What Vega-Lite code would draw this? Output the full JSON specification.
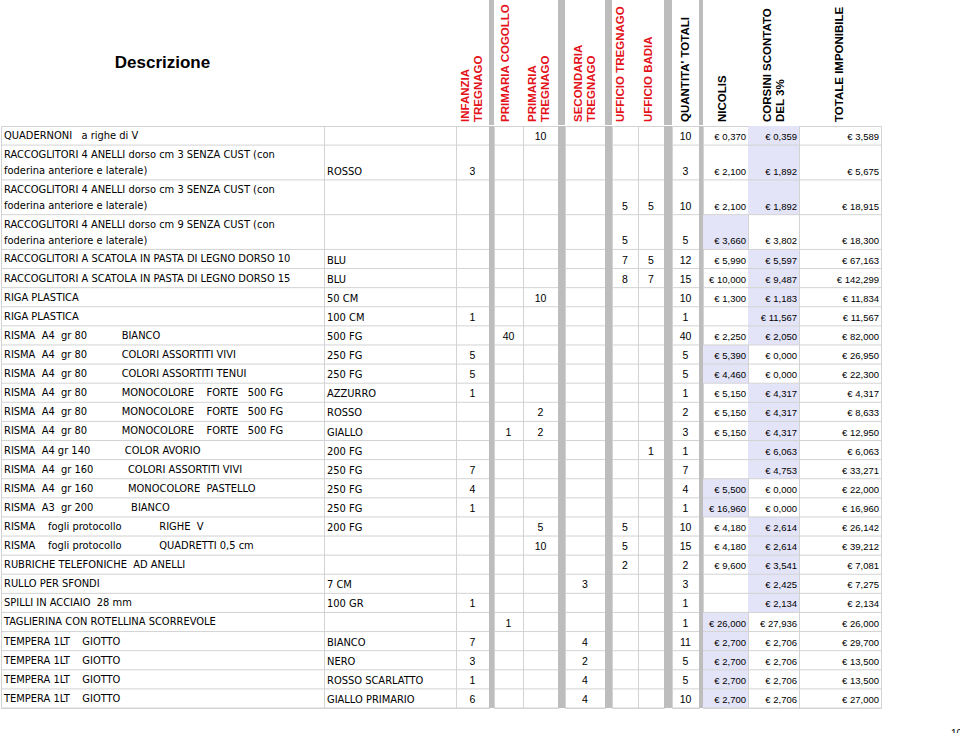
{
  "$schema": "https://vega.github.io/schema/vega-lite/v6.json",
  "padding": 0,
  "background": "white",
  "spacing": 0,
  "config": {
    "view": {"stroke": "#d3d3d3", "strokeWidth": 1},
    "concat": {"spacing": 0},
    "locale": {"number": {"decimal": ",", "thousands": ".", "grouping": [3], "currency": ["€ ", ""]}},
    "text": {"font": "Liberation Sans", "fontSize": 10.5, "color": "#000000"}
  },
  "datasets": {
    "righe": [
      {"descr": "QUADERNONI\u00a0\u00a0\u00a0a righe di V", "pt": 10, "q": 10, "nic": 0.37, "cor": 0.359, "tot": 3.589, "best": "CORSINI"},
      {"descr": ["RACCOGLITORI 4 ANELLI dorso cm 3 SENZA CUST (con", "foderina anteriore e laterale)"], "var": "ROSSO", "inf": 3, "q": 3, "nic": 2.1, "cor": 1.892, "tot": 5.675, "best": "CORSINI"},
      {"descr": ["RACCOGLITORI 4 ANELLI dorso cm 3 SENZA CUST (con", "foderina anteriore e laterale)"], "ut": 5, "ub": 5, "q": 10, "nic": 2.1, "cor": 1.892, "tot": 18.915, "best": "CORSINI"},
      {"descr": ["RACCOGLITORI 4 ANELLI dorso cm 9 SENZA CUST (con", "foderina anteriore e laterale)"], "ut": 5, "q": 5, "nic": 3.66, "cor": 3.802, "tot": 18.3, "best": "NICOLIS"},
      {"descr": "RACCOGLITORI A SCATOLA IN PASTA DI LEGNO DORSO 10", "var": "BLU", "ut": 7, "ub": 5, "q": 12, "nic": 5.99, "cor": 5.597, "tot": 67.163, "best": "CORSINI"},
      {"descr": "RACCOGLITORI A SCATOLA IN PASTA DI LEGNO DORSO 15", "var": "BLU", "ut": 8, "ub": 7, "q": 15, "nic": 10, "cor": 9.487, "tot": 142.299, "best": "CORSINI"},
      {"descr": "RIGA PLASTICA", "var": "50 CM", "pt": 10, "q": 10, "nic": 1.3, "cor": 1.183, "tot": 11.834, "best": "CORSINI"},
      {"descr": "RIGA PLASTICA", "var": "100 CM", "inf": 1, "q": 1, "cor": 11.567, "tot": 11.567, "best": "CORSINI"},
      {"descr": "RISMA\u00a0\u00a0A4\u00a0\u00a0gr 80\u00a0\u00a0\u00a0\u00a0\u00a0\u00a0\u00a0\u00a0\u00a0\u00a0\u00a0BIANCO", "var": "500 FG", "cog": 40, "q": 40, "nic": 2.25, "cor": 2.05, "tot": 82, "best": "CORSINI"},
      {"descr": "RISMA\u00a0\u00a0A4\u00a0\u00a0gr 80\u00a0\u00a0\u00a0\u00a0\u00a0\u00a0\u00a0\u00a0\u00a0\u00a0\u00a0COLORI ASSORTITI VIVI", "var": "250 FG", "inf": 5, "q": 5, "nic": 5.39, "cor": 0, "tot": 26.95, "best": "NICOLIS"},
      {"descr": "RISMA\u00a0\u00a0A4\u00a0\u00a0gr 80\u00a0\u00a0\u00a0\u00a0\u00a0\u00a0\u00a0\u00a0\u00a0\u00a0\u00a0COLORI ASSORTITI TENUI", "var": "250 FG", "inf": 5, "q": 5, "nic": 4.46, "cor": 0, "tot": 22.3, "best": "NICOLIS"},
      {"descr": "RISMA\u00a0\u00a0A4\u00a0\u00a0gr 80\u00a0\u00a0\u00a0\u00a0\u00a0\u00a0\u00a0\u00a0\u00a0\u00a0\u00a0MONOCOLORE\u00a0\u00a0\u00a0\u00a0FORTE\u00a0\u00a0\u00a0500 FG", "var": "AZZURRO", "inf": 1, "q": 1, "nic": 5.15, "cor": 4.317, "tot": 4.317, "best": "CORSINI"},
      {"descr": "RISMA\u00a0\u00a0A4\u00a0\u00a0gr 80\u00a0\u00a0\u00a0\u00a0\u00a0\u00a0\u00a0\u00a0\u00a0\u00a0\u00a0MONOCOLORE\u00a0\u00a0\u00a0\u00a0FORTE\u00a0\u00a0\u00a0500 FG", "var": "ROSSO", "pt": 2, "q": 2, "nic": 5.15, "cor": 4.317, "tot": 8.633, "best": "CORSINI"},
      {"descr": "RISMA\u00a0\u00a0A4\u00a0\u00a0gr 80\u00a0\u00a0\u00a0\u00a0\u00a0\u00a0\u00a0\u00a0\u00a0\u00a0\u00a0MONOCOLORE\u00a0\u00a0\u00a0\u00a0FORTE\u00a0\u00a0\u00a0500 FG", "var": "GIALLO", "cog": 1, "pt": 2, "q": 3, "nic": 5.15, "cor": 4.317, "tot": 12.95, "best": "CORSINI"},
      {"descr": "RISMA\u00a0\u00a0A4 gr 140\u00a0\u00a0\u00a0\u00a0\u00a0\u00a0\u00a0\u00a0\u00a0\u00a0\u00a0COLOR AVORIO", "var": "200 FG", "ub": 1, "q": 1, "cor": 6.063, "tot": 6.063, "best": "CORSINI"},
      {"descr": "RISMA\u00a0\u00a0A4\u00a0\u00a0gr 160\u00a0\u00a0\u00a0\u00a0\u00a0\u00a0\u00a0\u00a0\u00a0\u00a0\u00a0COLORI ASSORTITI VIVI", "var": "250 FG", "inf": 7, "q": 7, "cor": 4.753, "tot": 33.271, "best": "CORSINI"},
      {"descr": "RISMA\u00a0\u00a0A4\u00a0\u00a0gr 160\u00a0\u00a0\u00a0\u00a0\u00a0\u00a0\u00a0\u00a0\u00a0\u00a0\u00a0MONOCOLORE\u00a0\u00a0PASTELLO", "var": "250 FG", "inf": 4, "q": 4, "nic": 5.5, "cor": 0, "tot": 22, "best": "NICOLIS"},
      {"descr": "RISMA\u00a0\u00a0A3\u00a0\u00a0gr 200\u00a0\u00a0\u00a0\u00a0\u00a0\u00a0\u00a0\u00a0\u00a0\u00a0\u00a0\u00a0BIANCO", "var": "250 FG", "inf": 1, "q": 1, "nic": 16.96, "cor": 0, "tot": 16.96, "best": "NICOLIS"},
      {"descr": "RISMA\u00a0\u00a0\u00a0\u00a0fogli protocollo\u00a0\u00a0\u00a0\u00a0\u00a0\u00a0\u00a0\u00a0\u00a0\u00a0\u00a0\u00a0RIGHE\u00a0\u00a0V", "var": "200 FG", "pt": 5, "ut": 5, "q": 10, "nic": 4.18, "cor": 2.614, "tot": 26.142, "best": "CORSINI"},
      {"descr": "RISMA\u00a0\u00a0\u00a0\u00a0fogli protocollo\u00a0\u00a0\u00a0\u00a0\u00a0\u00a0\u00a0\u00a0\u00a0\u00a0\u00a0\u00a0QUADRETTI 0,5 cm", "pt": 10, "ut": 5, "q": 15, "nic": 4.18, "cor": 2.614, "tot": 39.212, "best": "CORSINI"},
      {"descr": "RUBRICHE TELEFONICHE\u00a0\u00a0AD ANELLI", "ut": 2, "q": 2, "nic": 9.6, "cor": 3.541, "tot": 7.081, "best": "CORSINI"},
      {"descr": "RULLO PER SFONDI", "var": "7 CM", "sec": 3, "q": 3, "cor": 2.425, "tot": 7.275, "best": "CORSINI"},
      {"descr": "SPILLI IN ACCIAIO\u00a0\u00a028 mm", "var": "100 GR", "inf": 1, "q": 1, "cor": 2.134, "tot": 2.134, "best": "CORSINI"},
      {"descr": "TAGLIERINA CON ROTELLINA SCORREVOLE", "cog": 1, "q": 1, "nic": 26, "cor": 27.936, "tot": 26, "best": "NICOLIS"},
      {"descr": "TEMPERA 1LT\u00a0\u00a0\u00a0\u00a0GIOTTO", "var": "BIANCO", "inf": 7, "sec": 4, "q": 11, "nic": 2.7, "cor": 2.706, "tot": 29.7, "best": "NICOLIS"},
      {"descr": "TEMPERA 1LT\u00a0\u00a0\u00a0\u00a0GIOTTO", "var": "NERO", "inf": 3, "sec": 2, "q": 5, "nic": 2.7, "cor": 2.706, "tot": 13.5, "best": "NICOLIS"},
      {"descr": "TEMPERA 1LT\u00a0\u00a0\u00a0\u00a0GIOTTO", "var": "ROSSO SCARLATTO", "inf": 1, "sec": 4, "q": 5, "nic": 2.7, "cor": 2.706, "tot": 13.5, "best": "NICOLIS"},
      {"descr": "TEMPERA 1LT\u00a0\u00a0\u00a0\u00a0GIOTTO", "var": "GIALLO PRIMARIO", "inf": 6, "sec": 4, "q": 10, "nic": 2.7, "cor": 2.706, "tot": 27, "best": "NICOLIS"}
    ]
  },
  "data": {"name": "righe"},
  "transform": [
    {"calculate": "isArray(datum.descr) ? 1.82 : 1", "as": "h"},
    {"window": [{"op": "sum", "field": "h", "as": "fondo"}], "frame": [null, 0]},
    {"calculate": "datum.fondo - datum.h", "as": "cima"}
  ],
  "vconcat": [
    {"bounds": "flush", "hconcat": [
      {"width": 323, "height": 125, "data": {"values": [{"t": "Descrizione"}]},
       "mark": {"type": "text", "font": "Liberation Sans", "fontSize": 17, "fontWeight": "bold"},
       "encoding": {"text": {"field": "t"}}},
      {"width": 132, "height": 125, "data": {"values": [{"t": ""}]},
       "mark": {"type": "text"}, "encoding": {"text": {"field": "t"}}},
      {"width": 33, "height": 125, "data": {"values": [{"t": ["INFANZIA", "TREGNAGO"]}]},
       "mark": {"type": "text", "angle": 270, "align": "left", "baseline": "middle", "y": "height", "dx": 3, "dy": -6.5, "font": "Liberation Sans", "fontSize": 11.5, "fontWeight": "bold", "lineHeight": 13, "color": "#e3121b"},
       "encoding": {"text": {"field": "t"}}},
      {"width": 5, "height": 125, "data": {"values": [{}]}, "mark": {"type": "text", "text": ""}, "encoding": {}, "view": {"fill": "#bdbdbd", "stroke": null}},
      {"width": 29, "height": 125, "data": {"values": [{"t": "PRIMARIA COGOLLO"}]},
       "mark": {"type": "text", "angle": 270, "align": "left", "baseline": "middle", "y": "height", "dx": 3, "dy": -3, "font": "Liberation Sans", "fontSize": 11.5, "fontWeight": "bold", "lineHeight": 13, "color": "#e3121b"},
       "encoding": {"text": {"field": "t"}}},
      {"width": 35, "height": 125, "data": {"values": [{"t": ["PRIMARIA", "TREGNAGO"]}]},
       "mark": {"type": "text", "angle": 270, "align": "left", "baseline": "middle", "y": "height", "dx": 3, "dy": -7.5, "font": "Liberation Sans", "fontSize": 11.5, "fontWeight": "bold", "lineHeight": 13, "color": "#e3121b"},
       "encoding": {"text": {"field": "t"}}},
      {"width": 7, "height": 125, "data": {"values": [{}]}, "mark": {"type": "text", "text": ""}, "encoding": {}, "view": {"fill": "#bdbdbd", "stroke": null}},
      {"width": 40, "height": 125, "data": {"values": [{"t": ["SECONDARIA", "TREGNAGO"]}]},
       "mark": {"type": "text", "angle": 270, "align": "left", "baseline": "middle", "y": "height", "dx": 3, "dy": -6.5, "font": "Liberation Sans", "fontSize": 11.5, "fontWeight": "bold", "lineHeight": 13, "color": "#e3121b"},
       "encoding": {"text": {"field": "t"}}},
      {"width": 7, "height": 125, "data": {"values": [{}]}, "mark": {"type": "text", "text": ""}, "encoding": {}, "view": {"fill": "#bdbdbd", "stroke": null}},
      {"width": 26, "height": 125, "data": {"values": [{"t": "UFFICIO TREGNAGO"}]},
       "mark": {"type": "text", "angle": 270, "align": "left", "baseline": "middle", "y": "height", "dx": 3, "dy": -4, "font": "Liberation Sans", "fontSize": 11.5, "fontWeight": "bold", "lineHeight": 13, "color": "#e3121b"},
       "encoding": {"text": {"field": "t"}}},
      {"width": 26, "height": 125, "data": {"values": [{"t": "UFFICIO BADIA"}]},
       "mark": {"type": "text", "angle": 270, "align": "left", "baseline": "middle", "y": "height", "dx": 3, "dy": -2, "font": "Liberation Sans", "fontSize": 11.5, "fontWeight": "bold", "lineHeight": 13, "color": "#e3121b"},
       "encoding": {"text": {"field": "t"}}},
      {"width": 8, "height": 125, "data": {"values": [{}]}, "mark": {"type": "text", "text": ""}, "encoding": {}, "view": {"fill": "#bdbdbd", "stroke": null}},
      {"width": 27, "height": 125, "data": {"values": [{"t": "QUANTITA' TOTALI"}]},
       "mark": {"type": "text", "angle": 270, "align": "left", "baseline": "middle", "y": "height", "dx": 3, "font": "Liberation Sans", "fontSize": 11.5, "fontWeight": "bold", "lineHeight": 13, "color": "#000000"},
       "encoding": {"text": {"field": "t"}}},
      {"width": 4, "height": 125, "data": {"values": [{}]}, "mark": {"type": "text", "text": ""}, "encoding": {}, "view": {"fill": "#bdbdbd", "stroke": null}},
      {"width": 45, "height": 125, "data": {"values": [{"t": "NICOLIS"}]},
       "mark": {"type": "text", "angle": 270, "align": "left", "baseline": "middle", "y": "height", "dx": 3, "dy": -3, "font": "Liberation Sans", "fontSize": 11.5, "fontWeight": "bold", "lineHeight": 13, "color": "#000000"},
       "encoding": {"text": {"field": "t"}}},
      {"width": 51, "height": 125, "data": {"values": [{"t": ["CORSINI SCONTATO", "DEL 3%"]}]},
       "mark": {"type": "text", "angle": 270, "align": "left", "baseline": "middle", "y": "height", "dx": 3, "dy": -6, "font": "Liberation Sans", "fontSize": 11.5, "fontWeight": "bold", "lineHeight": 13, "color": "#000000"},
       "encoding": {"text": {"field": "t"}}},
      {"width": 82, "height": 125, "data": {"values": [{"t": "TOTALE IMPONIBILE"}]},
       "mark": {"type": "text", "angle": 270, "align": "left", "baseline": "middle", "y": "height", "dx": 3, "font": "Liberation Sans", "fontSize": 11.5, "fontWeight": "bold", "lineHeight": 13, "color": "#000000"},
       "encoding": {"text": {"field": "t"}}}
    ]},
    {"bounds": "flush", "hconcat": [
      {"width": 323, "height": 582, "layer": [
        {"mark": {"type": "rule", "color": "#d3d3d3"}, "encoding": {"y": {"field": "fondo", "type": "quantitative", "scale": {"zero": true, "nice": false, "reverse": true}, "axis": null}}},
        {"mark": {"type": "text", "align": "left", "baseline": "top", "x": 0, "dx": 3, "dy": 4, "font": "DejaVu Sans Condensed, DejaVu Sans", "fontSize": 11, "lineHeight": 16},
         "encoding": {"y": {"field": "cima", "type": "quantitative", "scale": {"zero": true, "nice": false, "reverse": true}, "axis": null}, "text": {"field": "descr"}}}
      ]},
      {"width": 132, "height": 582, "layer": [
        {"mark": {"type": "rule", "color": "#d3d3d3"}, "encoding": {"y": {"field": "fondo", "type": "quantitative", "scale": {"zero": true, "nice": false, "reverse": true}, "axis": null}}},
        {"transform": [{"filter": "isValid(datum.var)"}],
         "mark": {"type": "text", "align": "left", "baseline": "bottom", "x": 0, "dx": 3, "dy": -3, "font": "DejaVu Sans Condensed, DejaVu Sans", "fontSize": 11},
         "encoding": {"y": {"field": "fondo", "type": "quantitative", "scale": {"zero": true, "nice": false, "reverse": true}, "axis": null}, "text": {"field": "var"}}}
      ]},
      {"width": 33, "height": 582, "layer": [
        {"mark": {"type": "rule", "color": "#d3d3d3"}, "encoding": {"y": {"field": "fondo", "type": "quantitative", "scale": {"zero": true, "nice": false, "reverse": true}, "axis": null}}},
        {"transform": [{"filter": "isValid(datum.inf)"}],
         "mark": {"type": "text", "baseline": "bottom", "dy": -3},
         "encoding": {"y": {"field": "fondo", "type": "quantitative", "scale": {"zero": true, "nice": false, "reverse": true}, "axis": null}, "text": {"field": "inf", "type": "quantitative"}}}
      ]},
      {"width": 5, "height": 582, "data": {"values": [{}]}, "mark": {"type": "text", "text": ""}, "encoding": {}, "view": {"fill": "#bdbdbd", "stroke": null}},
      {"width": 29, "height": 582, "layer": [
        {"mark": {"type": "rule", "color": "#d3d3d3"}, "encoding": {"y": {"field": "fondo", "type": "quantitative", "scale": {"zero": true, "nice": false, "reverse": true}, "axis": null}}},
        {"transform": [{"filter": "isValid(datum.cog)"}],
         "mark": {"type": "text", "baseline": "bottom", "dy": -3},
         "encoding": {"y": {"field": "fondo", "type": "quantitative", "scale": {"zero": true, "nice": false, "reverse": true}, "axis": null}, "text": {"field": "cog", "type": "quantitative"}}}
      ]},
      {"width": 35, "height": 582, "layer": [
        {"mark": {"type": "rule", "color": "#d3d3d3"}, "encoding": {"y": {"field": "fondo", "type": "quantitative", "scale": {"zero": true, "nice": false, "reverse": true}, "axis": null}}},
        {"transform": [{"filter": "isValid(datum.pt)"}],
         "mark": {"type": "text", "baseline": "bottom", "dy": -3},
         "encoding": {"y": {"field": "fondo", "type": "quantitative", "scale": {"zero": true, "nice": false, "reverse": true}, "axis": null}, "text": {"field": "pt", "type": "quantitative"}}}
      ]},
      {"width": 7, "height": 582, "data": {"values": [{}]}, "mark": {"type": "text", "text": ""}, "encoding": {}, "view": {"fill": "#bdbdbd", "stroke": null}},
      {"width": 40, "height": 582, "layer": [
        {"mark": {"type": "rule", "color": "#d3d3d3"}, "encoding": {"y": {"field": "fondo", "type": "quantitative", "scale": {"zero": true, "nice": false, "reverse": true}, "axis": null}}},
        {"transform": [{"filter": "isValid(datum.sec)"}],
         "mark": {"type": "text", "baseline": "bottom", "dy": -3},
         "encoding": {"y": {"field": "fondo", "type": "quantitative", "scale": {"zero": true, "nice": false, "reverse": true}, "axis": null}, "text": {"field": "sec", "type": "quantitative"}}}
      ]},
      {"width": 7, "height": 582, "data": {"values": [{}]}, "mark": {"type": "text", "text": ""}, "encoding": {}, "view": {"fill": "#bdbdbd", "stroke": null}},
      {"width": 26, "height": 582, "layer": [
        {"mark": {"type": "rule", "color": "#d3d3d3"}, "encoding": {"y": {"field": "fondo", "type": "quantitative", "scale": {"zero": true, "nice": false, "reverse": true}, "axis": null}}},
        {"transform": [{"filter": "isValid(datum.ut)"}],
         "mark": {"type": "text", "baseline": "bottom", "dy": -3},
         "encoding": {"y": {"field": "fondo", "type": "quantitative", "scale": {"zero": true, "nice": false, "reverse": true}, "axis": null}, "text": {"field": "ut", "type": "quantitative"}}}
      ]},
      {"width": 26, "height": 582, "layer": [
        {"mark": {"type": "rule", "color": "#d3d3d3"}, "encoding": {"y": {"field": "fondo", "type": "quantitative", "scale": {"zero": true, "nice": false, "reverse": true}, "axis": null}}},
        {"transform": [{"filter": "isValid(datum.ub)"}],
         "mark": {"type": "text", "baseline": "bottom", "dy": -3},
         "encoding": {"y": {"field": "fondo", "type": "quantitative", "scale": {"zero": true, "nice": false, "reverse": true}, "axis": null}, "text": {"field": "ub", "type": "quantitative"}}}
      ]},
      {"width": 8, "height": 582, "data": {"values": [{}]}, "mark": {"type": "text", "text": ""}, "encoding": {}, "view": {"fill": "#bdbdbd", "stroke": null}},
      {"width": 27, "height": 582, "layer": [
        {"mark": {"type": "rule", "color": "#d3d3d3"}, "encoding": {"y": {"field": "fondo", "type": "quantitative", "scale": {"zero": true, "nice": false, "reverse": true}, "axis": null}}},
        {"transform": [{"filter": "isValid(datum.q)"}],
         "mark": {"type": "text", "baseline": "bottom", "dy": -3},
         "encoding": {"y": {"field": "fondo", "type": "quantitative", "scale": {"zero": true, "nice": false, "reverse": true}, "axis": null}, "text": {"field": "q", "type": "quantitative"}}}
      ]},
      {"width": 4, "height": 582, "data": {"values": [{}]}, "mark": {"type": "text", "text": ""}, "encoding": {}, "view": {"fill": "#bdbdbd", "stroke": null}},
      {"width": 45, "height": 582, "layer": [
        {"transform": [{"filter": "datum.best == 'NICOLIS'"}],
         "mark": {"type": "rect", "color": "#e4e4f9"},
         "encoding": {"y": {"field": "cima", "type": "quantitative", "scale": {"zero": true, "nice": false, "reverse": true}, "axis": null}, "y2": {"field": "fondo"}}},
        {"mark": {"type": "rule", "color": "#d3d3d3"}, "encoding": {"y": {"field": "fondo", "type": "quantitative", "scale": {"zero": true, "nice": false, "reverse": true}, "axis": null}}},
        {"transform": [{"filter": "isValid(datum.nic)"}],
         "mark": {"type": "text", "align": "right", "baseline": "bottom", "x": "width", "dx": -2, "dy": -3, "fontSize": 9.5},
         "encoding": {"y": {"field": "fondo", "type": "quantitative", "scale": {"zero": true, "nice": false, "reverse": true}, "axis": null}, "text": {"field": "nic", "type": "quantitative", "format": "$.3f"}}}
      ]},
      {"width": 51, "height": 582, "layer": [
        {"transform": [{"filter": "datum.best == 'CORSINI'"}],
         "mark": {"type": "rect", "color": "#e4e4f9"},
         "encoding": {"y": {"field": "cima", "type": "quantitative", "scale": {"zero": true, "nice": false, "reverse": true}, "axis": null}, "y2": {"field": "fondo"}}},
        {"mark": {"type": "rule", "color": "#d3d3d3"}, "encoding": {"y": {"field": "fondo", "type": "quantitative", "scale": {"zero": true, "nice": false, "reverse": true}, "axis": null}}},
        {"transform": [{"filter": "isValid(datum.cor)"}],
         "mark": {"type": "text", "align": "right", "baseline": "bottom", "x": "width", "dx": -2, "dy": -3, "fontSize": 9.5},
         "encoding": {"y": {"field": "fondo", "type": "quantitative", "scale": {"zero": true, "nice": false, "reverse": true}, "axis": null}, "text": {"field": "cor", "type": "quantitative", "format": "$.3f"}}}
      ]},
      {"width": 82, "height": 582, "layer": [
        {"mark": {"type": "rule", "color": "#d3d3d3"}, "encoding": {"y": {"field": "fondo", "type": "quantitative", "scale": {"zero": true, "nice": false, "reverse": true}, "axis": null}}},
        {"transform": [{"filter": "isValid(datum.tot)"}],
         "mark": {"type": "text", "align": "right", "baseline": "bottom", "x": "width", "dx": -2, "dy": -3, "fontSize": 9.5},
         "encoding": {"y": {"field": "fondo", "type": "quantitative", "scale": {"zero": true, "nice": false, "reverse": true}, "axis": null}, "text": {"field": "tot", "type": "quantitative", "format": "$.3f"}}}
      ]}
    ]},
    {"width": 960, "height": 20, "data": {"values": [{"p": "10"}]}, "view": {"stroke": null},
     "mark": {"type": "text", "align": "left", "baseline": "top", "x": "width", "y": "height", "dx": -10, "fontSize": 10},
     "encoding": {"text": {"field": "p"}}}
  ]
}
